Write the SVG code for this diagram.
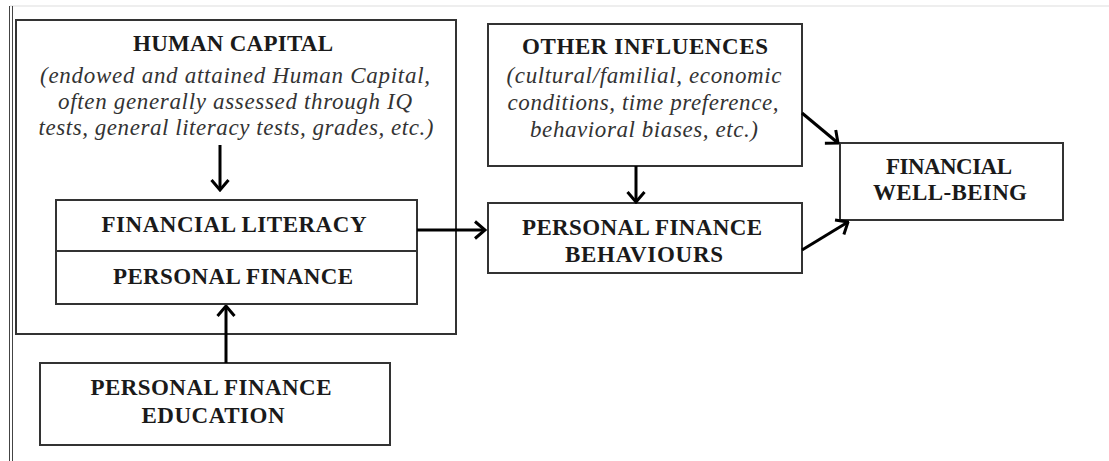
<svg xmlns="http://www.w3.org/2000/svg" width="1109" height="461" viewBox="0 0 1109 461">
<defs>
<marker id="arr" viewBox="0 0 13 20" refX="11.5" refY="10" markerWidth="13" markerHeight="20" markerUnits="userSpaceOnUse" orient="auto">
<path d="M1.5,1.5 L11.5,10 L1.5,18.5" fill="none" stroke="#000" stroke-width="3" stroke-linejoin="miter"/>
</marker>
</defs>
<style>
.box{fill:#fff;stroke:#333;stroke-width:2}
.h{font-family:"Liberation Serif",serif;font-weight:bold;font-size:23px;fill:#1a1a1a;text-anchor:middle}
.i{font-family:"Liberation Serif",serif;font-style:italic;font-size:23px;fill:#333;text-anchor:middle}
.c{stroke:#000;stroke-width:3;fill:none;marker-end:url(#arr)}
</style>
<rect width="1109" height="461" fill="#fff"/>
<g id="frame">
<line x1="10" y1="6" x2="1109" y2="6" stroke="#ddd" stroke-width="1"/>
<line x1="9.5" y1="6" x2="9.5" y2="461" stroke="#444" stroke-width="1"/>
<line x1="12.5" y1="6" x2="12.5" y2="461" stroke="#444" stroke-width="1"/>
</g>
<g id="human-capital">
<rect class="box" x="16" y="20" width="440" height="314"/>
<text class="h" x="233" y="51" textLength="200" lengthAdjust="spacing">HUMAN CAPITAL</text>
<text class="i" x="235" y="83" textLength="390" lengthAdjust="spacing">(endowed and attained Human Capital,</text>
<text class="i" x="235" y="109" textLength="354" lengthAdjust="spacing">often generally assessed through IQ</text>
<text class="i" x="236" y="135" textLength="395" lengthAdjust="spacing">tests, general literacy tests, grades, etc.)</text>
</g>
<g id="financial-literacy">
<rect class="box" x="56" y="200" width="361" height="104"/>
<line x1="56" y1="251" x2="417" y2="251" stroke="#333" stroke-width="2"/>
<text class="h" x="234" y="232" textLength="265" lengthAdjust="spacing">FINANCIAL LITERACY</text>
<text class="h" x="233" y="284" textLength="240" lengthAdjust="spacing">PERSONAL FINANCE</text>
</g>
<g id="education">
<rect class="box" x="40" y="363" width="350" height="82"/>
<text class="h" x="211" y="395" textLength="241" lengthAdjust="spacing">PERSONAL FINANCE</text>
<text class="h" x="213" y="423" textLength="143" lengthAdjust="spacing">EDUCATION</text>
</g>
<g id="other-influences">
<rect class="box" x="488" y="24" width="314" height="142"/>
<text class="h" x="645" y="54" textLength="246" lengthAdjust="spacing">OTHER INFLUENCES</text>
<text class="i" x="644" y="83" textLength="275" lengthAdjust="spacing">(cultural/familial, economic</text>
<text class="i" x="643" y="110" textLength="271" lengthAdjust="spacing">conditions, time preference,</text>
<text class="i" x="644" y="137" textLength="228" lengthAdjust="spacing">behavioral biases, etc.)</text>
</g>
<g id="behaviours">
<rect class="box" x="488" y="203" width="314" height="70"/>
<text class="h" x="642" y="235" textLength="240" lengthAdjust="spacing">PERSONAL FINANCE</text>
<text class="h" x="644" y="262" textLength="158" lengthAdjust="spacing">BEHAVIOURS</text>
</g>
<g id="well-being">
<rect class="box" x="840" y="143" width="223" height="77"/>
<text class="h" x="949" y="174" textLength="126" lengthAdjust="spacing">FINANCIAL</text>
<text class="h" x="950" y="200" textLength="154" lengthAdjust="spacing">WELL-BEING</text>
</g>
<g id="connectors">
<line class="c" x1="220" y1="145" x2="220" y2="190"/>
<line class="c" x1="226" y1="363" x2="226" y2="306"/>
<line class="c" x1="417" y1="230" x2="485" y2="230"/>
<line class="c" x1="636" y1="166" x2="636" y2="202"/>
<line class="c" x1="802" y1="113" x2="838" y2="143"/>
<line class="c" x1="802" y1="250" x2="848" y2="222"/>
</g>
</svg>
